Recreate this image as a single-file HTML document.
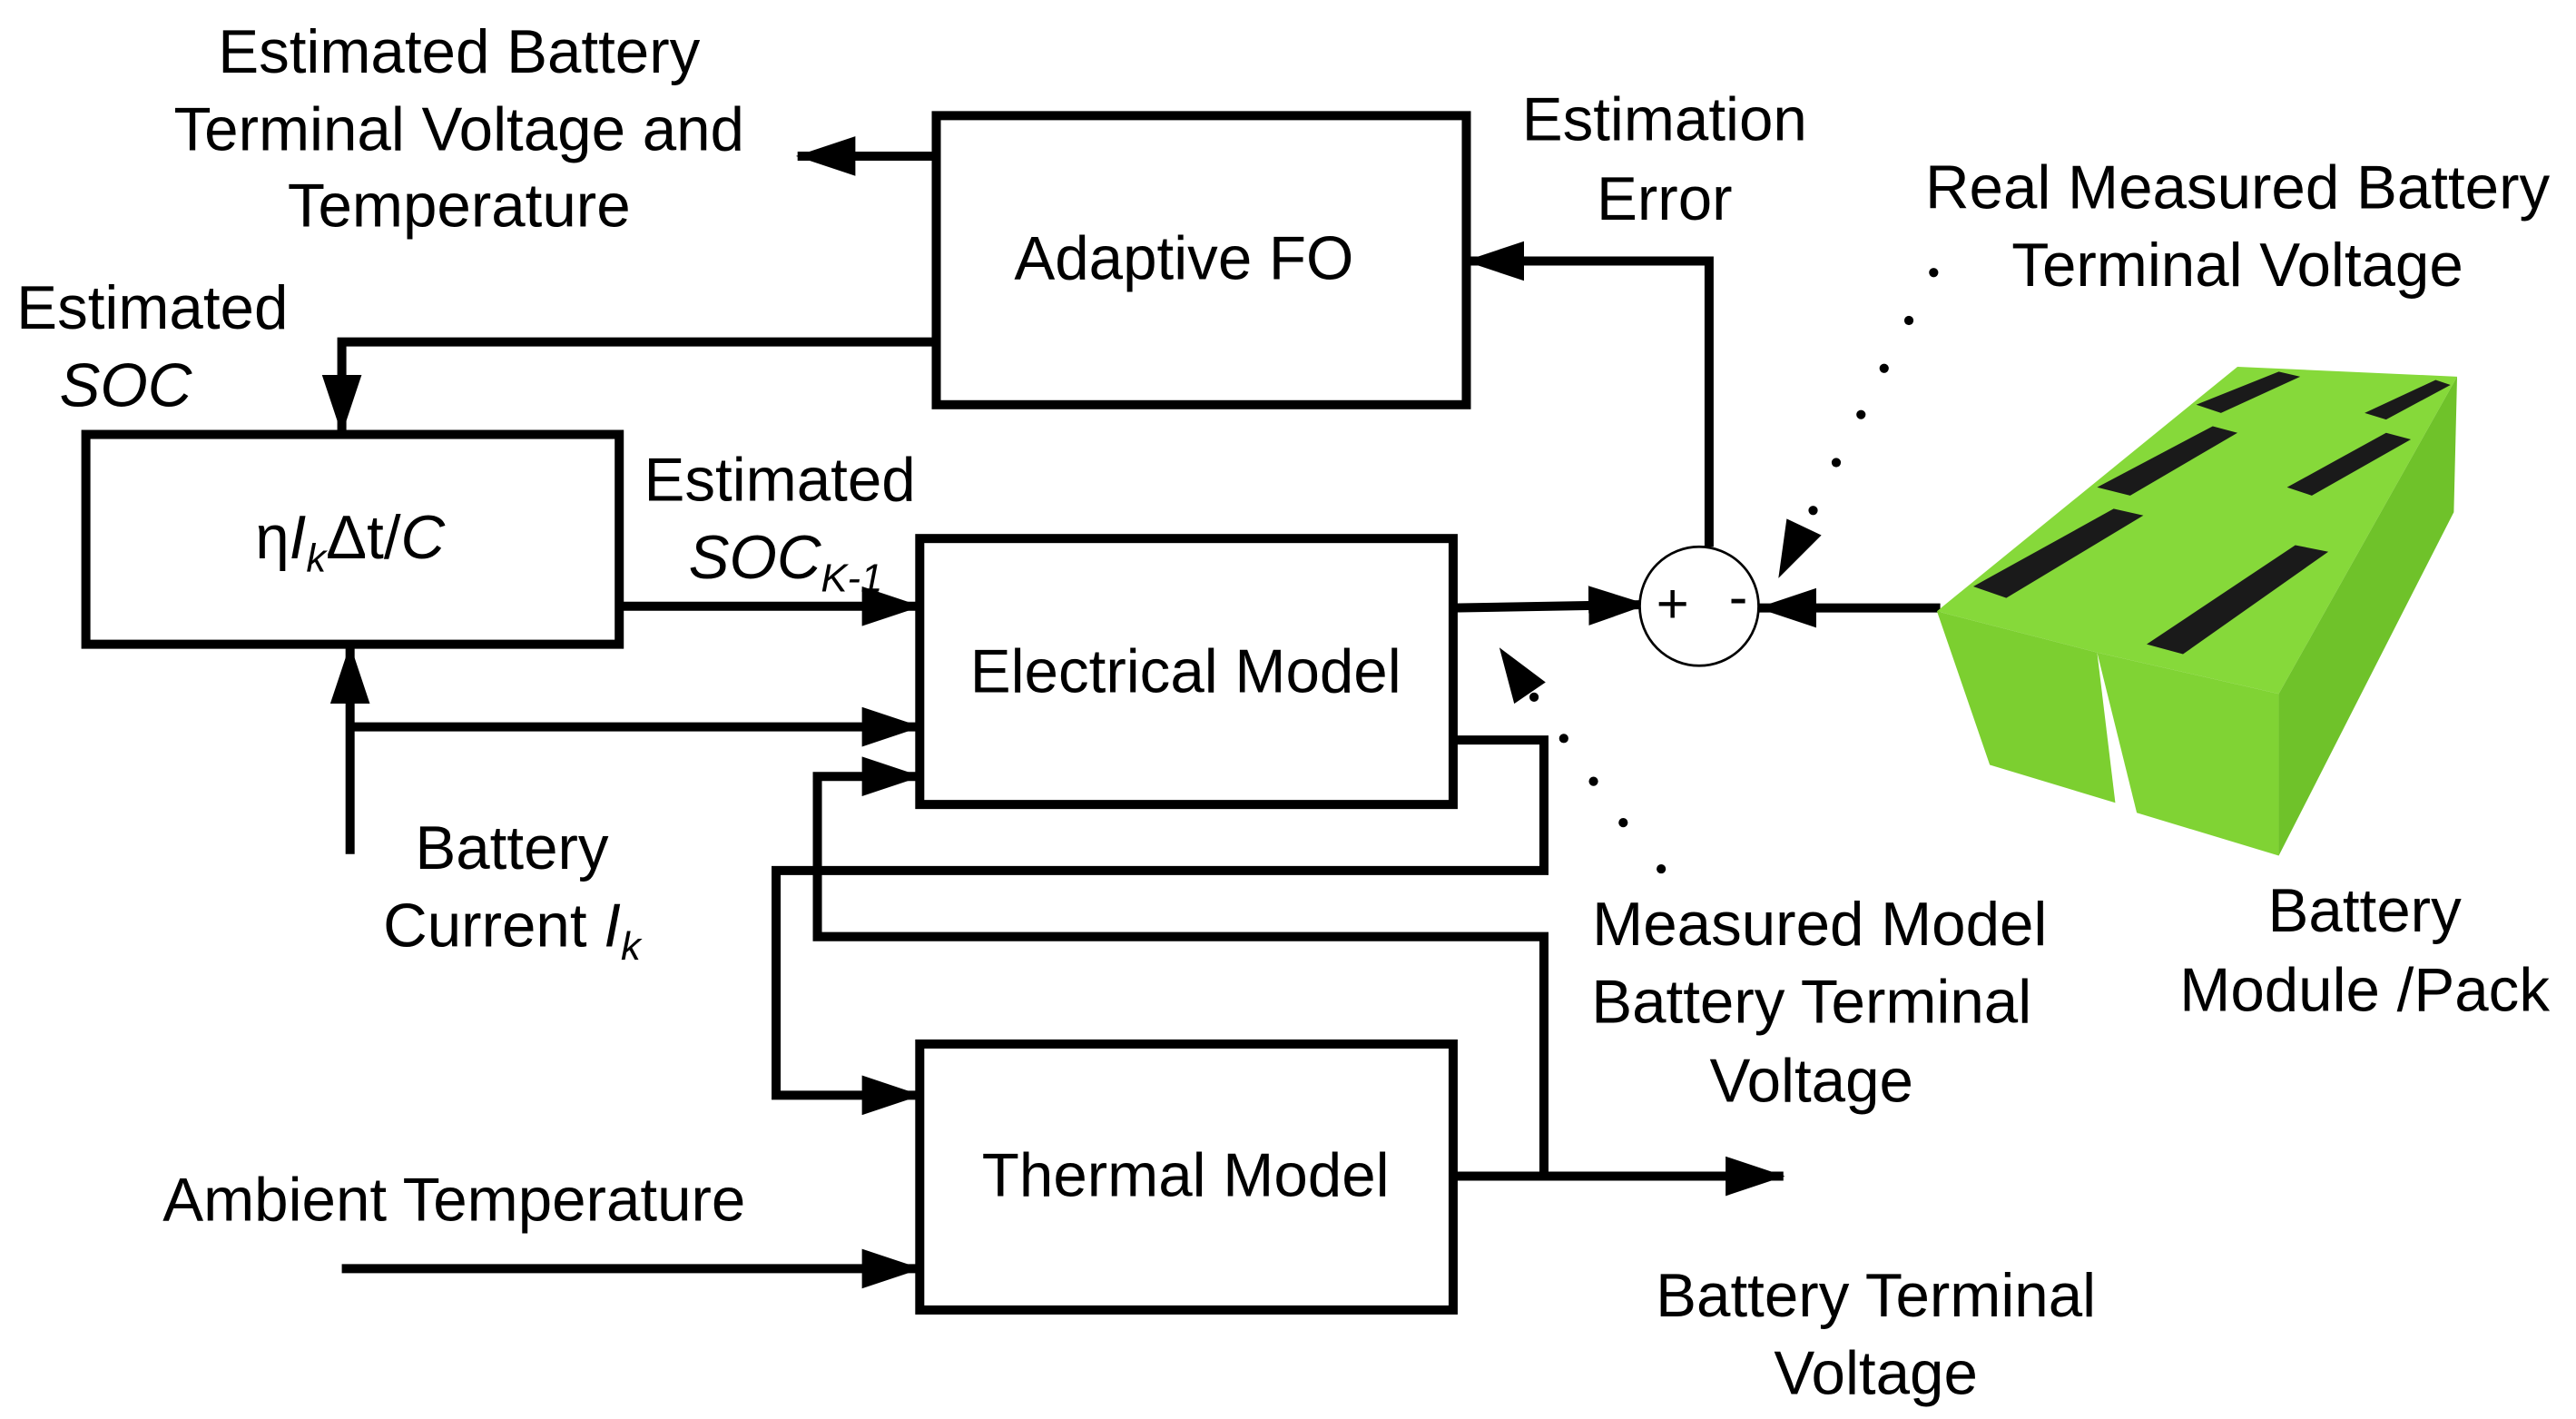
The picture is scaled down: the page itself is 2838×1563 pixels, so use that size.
<!DOCTYPE html>
<html><head><meta charset="utf-8">
<style>html,body{margin:0;padding:0;background:#fff}svg{display:block}text{font-family:"Liberation Sans",Arial,sans-serif;font-size:37px;fill:#000}</style>
</head><body>
<svg width="2838" height="1563" viewBox="0 0 1560 859" preserveAspectRatio="none" xmlns="http://www.w3.org/2000/svg">
<defs>
<marker id="a" markerUnits="userSpaceOnUse" markerWidth="36" markerHeight="24" refX="35" refY="12" orient="auto"><path d="M0,0 L36,12 L0,24 z" fill="#000"/></marker>
</defs>
<g fill="none" stroke="#000" stroke-width="5.5">
<rect x="567" y="70" width="321" height="175"/>
<rect x="52" y="263" width="323" height="127"/>
<rect x="557" y="326" width="323" height="161"/>
<rect x="557" y="632" width="323" height="161"/>
<path d="M567,94.5 L483,94.5" marker-end="url(#a)"/>
<path d="M567,207 L207,207 L207,262" marker-end="url(#a)"/>
<path d="M1035,331 L1035,158 L888,158" marker-end="url(#a)"/>
<path d="M880,368 L997,366" marker-end="url(#a)"/>
<path d="M1175,368 L1065,368" marker-end="url(#a)"/>
<path d="M375,367 L557,367" marker-end="url(#a)"/>
<path d="M212,517 L212,391" marker-end="url(#a)"/>
<path d="M212,440 L557,440" marker-end="url(#a)"/>
<path d="M880,448 L935,448 L935,527 L470,527 L470,663 L557,663" marker-end="url(#a)"/>
<path d="M880,712 L1080,712" marker-end="url(#a)"/>
<path d="M935,712 L935,567 L495,567 L495,470 L557,470" marker-end="url(#a)"/>
<path d="M207,768 L557,768" marker-end="url(#a)"/>
</g>
<circle cx="1029" cy="367" r="36" fill="#fff" stroke="#000" stroke-width="1.5"/>
<text x="1003" y="377" style="font-size:34px">+</text>
<text x="1047" y="373" style="font-size:34px">-</text>
<g fill="#000">
<circle cx="1171" cy="165" r="2.8"/><circle cx="1156" cy="194" r="2.8"/><circle cx="1141" cy="223" r="2.8"/><circle cx="1127" cy="251" r="2.8"/><circle cx="1112" cy="280" r="2.8"/><circle cx="1098" cy="309" r="2.8"/>
<polygon points="1077,350 1082,314 1103,324"/>
<circle cx="929" cy="422" r="2.8"/><circle cx="947" cy="447" r="2.8"/><circle cx="965" cy="473" r="2.8"/><circle cx="983" cy="498" r="2.8"/><circle cx="1006" cy="526" r="2.8"/>
<polygon points="908,392 917,426 936,413"/>
</g>
<!-- battery -->
<g>
<polygon points="1173,370 1355,222 1488,228 1380,420 1270,395" fill="#86d93a"/>
<polygon points="1173,370 1270,395 1281,486 1205,463" fill="#7ccf30"/>
<polygon points="1270,395 1380,420 1380,518 1294,492" fill="#80d334"/>
<polygon points="1380,420 1488,228 1486,310 1380,518" fill="#6fc22a"/>
<polygon points="1195,355 1280,308 1298,312 1215,362" fill="#1a1a1a"/>
<polygon points="1300,390 1390,330 1410,334 1322,396" fill="#1a1a1a"/>
<polygon points="1270,295 1340,258 1355,262 1290,300" fill="#1a1a1a"/>
<polygon points="1385,295 1445,262 1460,266 1400,300" fill="#1a1a1a"/>
<polygon points="1330,245 1380,225 1393,228 1345,250" fill="#1a1a1a"/>
<polygon points="1432,250 1475,230 1484,233 1445,254" fill="#1a1a1a"/>
</g>
<text x="278" y="44" text-anchor="middle">Estimated Battery</text>
<text x="278" y="91" text-anchor="middle">Terminal Voltage and</text>
<text x="278" y="137" text-anchor="middle">Temperature</text>
<text x="1008" y="85" text-anchor="middle">Estimation</text>
<text x="1008" y="133" text-anchor="middle">Error</text>
<text x="1355" y="126" text-anchor="middle">Real Measured Battery</text>
<text x="1355" y="173" text-anchor="middle">Terminal Voltage</text>
<text x="10" y="199">Estimated</text>
<text x="36" y="246" font-style="italic">SOC</text>
<text x="717" y="169" text-anchor="middle">Adaptive FO</text>
<text x="212" y="338" text-anchor="middle">η<tspan font-style="italic">I</tspan><tspan font-style="italic" style="font-size:24px" dy="8">k</tspan><tspan dy="-8">Δt/</tspan><tspan font-style="italic">C</tspan></text>
<text x="390" y="303">Estimated</text>
<text x="417" y="350" font-style="italic">SOC<tspan style="font-size:24px" dy="8">K-1</tspan></text>
<text x="718" y="419" text-anchor="middle">Electrical Model</text>
<text x="310" y="526" text-anchor="middle">Battery</text>
<text x="310" y="573" text-anchor="middle">Current <tspan font-style="italic">I</tspan><tspan font-style="italic" style="font-size:24px" dy="8">k</tspan></text>
<text x="1102" y="572" text-anchor="middle">Measured Model</text>
<text x="1097" y="619" text-anchor="middle">Battery Terminal</text>
<text x="1097" y="667" text-anchor="middle">Voltage</text>
<text x="1432" y="564" text-anchor="middle">Battery</text>
<text x="1432" y="612" text-anchor="middle">Module /Pack</text>
<text x="718" y="724" text-anchor="middle">Thermal Model</text>
<text x="275" y="739" text-anchor="middle">Ambient Temperature</text>
<text x="1136" y="797" text-anchor="middle">Battery Terminal</text>
<text x="1136" y="844" text-anchor="middle">Voltage</text>
</svg>
</body></html>
